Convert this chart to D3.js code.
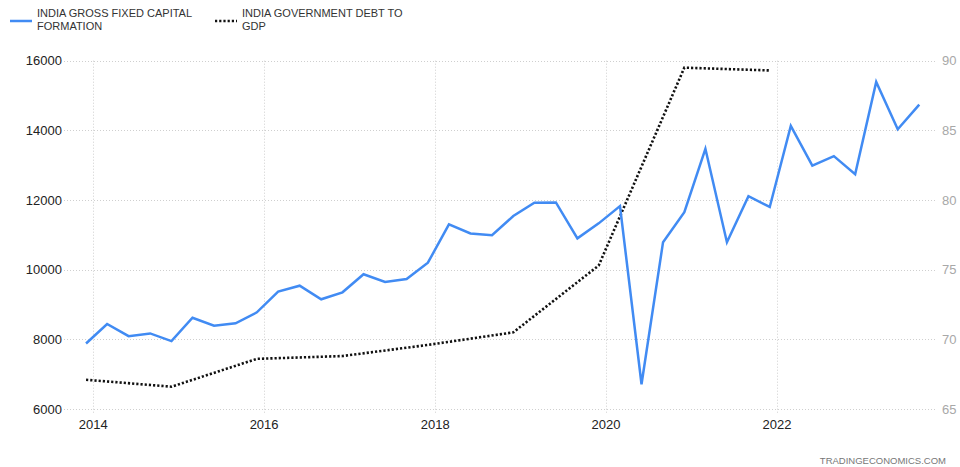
<!DOCTYPE html>
<html>
<head>
<meta charset="utf-8">
<script src="https://cdn.jsdelivr.net/npm/d3@7"></script>
<style>
  body { margin: 0; background: #fff; }
  svg { display: block; font-family: "Liberation Sans", Arial, sans-serif; }
</style>
</head>
<body>
<script>
var w = 960;
var h = 467;

// quarterly gross fixed capital formation (INR billion)
var gfcfDates = ["2013-12","2014-03","2014-06","2014-09","2014-12","2015-03","2015-06","2015-09",
  "2015-12","2016-03","2016-06","2016-09","2016-12","2017-03","2017-06","2017-09",
  "2017-12","2018-03","2018-06","2018-09","2018-12","2019-03","2019-06","2019-09",
  "2019-12","2020-03","2020-06","2020-09","2020-12","2021-03","2021-06","2021-09",
  "2021-12","2022-03","2022-06","2022-09","2022-12","2023-03","2023-06","2023-09"];
var gfcfValues = [7880, 8440, 8090, 8170, 7950, 8620, 8390, 8460,
  8775, 9370, 9540, 9150, 9350, 9870, 9650, 9730,
  10200, 11300, 11040, 10990, 11540, 11920, 11930, 10900,
  11330, 11825, 6710, 10790, 11650, 13470, 10790, 12110,
  11800, 14130, 12990, 13260, 12740, 15390, 14030, 14740];

// yearly government debt to GDP (%)
var debtDates = ["2013-12","2014-12","2015-12","2016-12","2017-12","2018-12","2019-12","2020-12","2021-12"];
var debtValues = [67.1, 66.6, 68.6, 68.8, 69.6, 70.5, 75.3, 89.5, 89.3];

var leftTicks = [6000, 8000, 10000, 12000, 14000, 16000];
var rightTicks = [65, 70, 75, 80, 85, 90];
var yearTicks = [2014, 2016, 2018, 2020, 2022];

var parse = d3.timeParse("%Y-%m");
var gfcf = gfcfDates.map(function(d, i) { return { date: parse(d), value: gfcfValues[i] }; });
var debt = debtDates.map(function(d, i) { return { date: parse(d), value: debtValues[i] }; });

var plotLeft = 64, plotRight = 936, plotTop = 60.7, plotBottom = 409;

var xScale = d3.scaleTime()
  .domain([new Date(2014, 0, 1), new Date(2022, 0, 1)])
  .range([93.3, 777]);

var yLeft = d3.scaleLinear().domain([6000, 16000]).range([plotBottom, plotTop]);
var yRight = d3.scaleLinear().domain([65, 90]).range([plotBottom, plotTop]);

var svg = d3.select("body").append("svg")
  .attr("width", w)
  .attr("height", h);

// grid
svg.append("g")
  .selectAll("line")
  .data(leftTicks)
  .enter()
  .append("line")
  .attr("x1", plotLeft)
  .attr("x2", plotRight)
  .attr("y1", function(d) { return Math.round(yLeft(d)) + 0.5; })
  .attr("y2", function(d) { return Math.round(yLeft(d)) + 0.5; })
  .attr("stroke", "#cfcfcf")
  .attr("stroke-dasharray", "1,2");

svg.append("g")
  .selectAll("line")
  .data(yearTicks)
  .enter()
  .append("line")
  .attr("x1", function(d) { return Math.round(xScale(new Date(d, 0, 1))) + 0.5; })
  .attr("x2", function(d) { return Math.round(xScale(new Date(d, 0, 1))) + 0.5; })
  .attr("y1", plotTop)
  .attr("y2", plotBottom + 5)
  .attr("stroke", "#cfcfcf")
  .attr("stroke-dasharray", "1,2");

// axis labels
svg.append("g")
  .selectAll("text")
  .data(leftTicks)
  .enter()
  .append("text")
  .attr("x", 62)
  .attr("y", function(d) { return yLeft(d) + 4.5; })
  .attr("text-anchor", "end")
  .attr("font-size", 13)
  .attr("fill", "#222")
  .text(function(d) { return d; });

svg.append("g")
  .selectAll("text")
  .data(rightTicks)
  .enter()
  .append("text")
  .attr("x", 942)
  .attr("y", function(d) { return yRight(d) + 4.5; })
  .attr("font-size", 13)
  .attr("fill", "#a8a8a8")
  .text(function(d) { return d; });

svg.append("g")
  .selectAll("text")
  .data(yearTicks)
  .enter()
  .append("text")
  .attr("x", function(d) { return xScale(new Date(d, 0, 1)); })
  .attr("y", 429)
  .attr("text-anchor", "middle")
  .attr("font-size", 13)
  .attr("fill", "#222")
  .text(function(d) { return d; });

// series
var gfcfLine = d3.line()
  .x(function(d) { return xScale(d.date); })
  .y(function(d) { return yLeft(d.value); });

var debtLine = d3.line()
  .x(function(d) { return xScale(d.date); })
  .y(function(d) { return yRight(d.value); });

svg.append("path")
  .datum(debt)
  .attr("d", debtLine)
  .attr("fill", "none")
  .attr("stroke", "#111")
  .attr("stroke-width", 2.6)
  .attr("stroke-dasharray", "2.2,2");

svg.append("path")
  .datum(gfcf)
  .attr("d", gfcfLine)
  .attr("fill", "none")
  .attr("stroke", "#418bf3")
  .attr("stroke-width", 2.5)
  .attr("stroke-linejoin", "miter");

// legend
var legend = svg.append("g").attr("font-size", 11).attr("fill", "#333");
legend.append("line")
  .attr("x1", 10).attr("x2", 32).attr("y1", 21).attr("y2", 21)
  .attr("stroke", "#418bf3").attr("stroke-width", 2.5);
legend.append("text").attr("x", 37).attr("y", 17).text("INDIA GROSS FIXED CAPITAL");
legend.append("text").attr("x", 37).attr("y", 30).text("FORMATION");
legend.append("line")
  .attr("x1", 215).attr("x2", 237).attr("y1", 21).attr("y2", 21)
  .attr("stroke", "#111").attr("stroke-width", 2.6).attr("stroke-dasharray", "2.2,2");
legend.append("text").attr("x", 242).attr("y", 17).text("INDIA GOVERNMENT DEBT TO");
legend.append("text").attr("x", 242).attr("y", 30).text("GDP");

svg.append("text")
  .attr("x", 946)
  .attr("y", 464)
  .attr("text-anchor", "end")
  .attr("font-size", 9.5)
  .attr("fill", "#777")
  .text("TRADINGECONOMICS.COM");
</script>
</body>
</html>
